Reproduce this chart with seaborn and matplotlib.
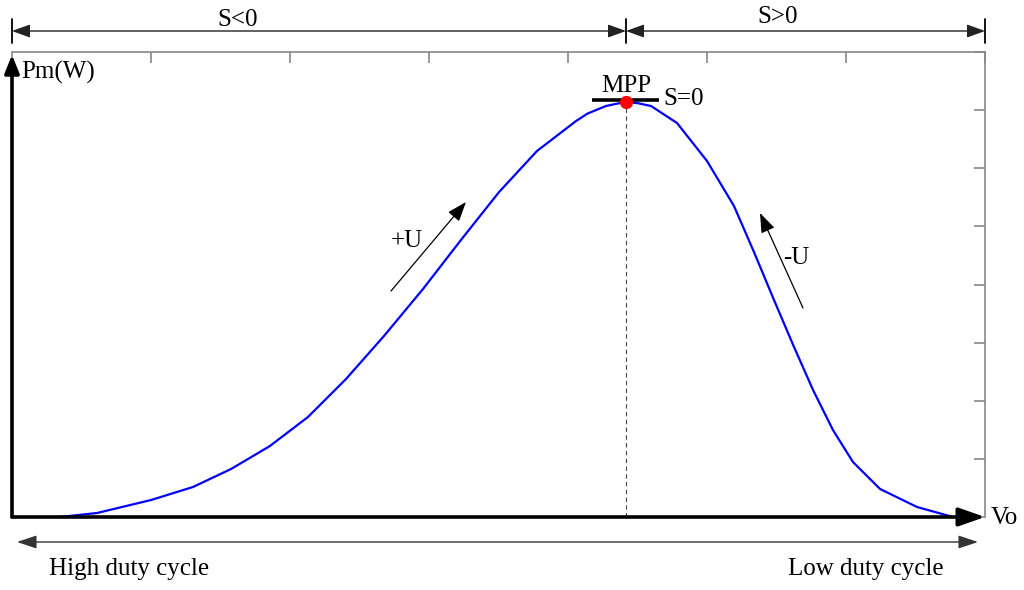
import numpy as np
import matplotlib
matplotlib.use('Agg')
import matplotlib.pyplot as plt
from matplotlib.lines import Line2D
import seaborn as sns

# P-V curve (Vo in tick units, Pm in tick units)
vo = [0.345, 0.612, 1.000, 1.302, 1.576, 1.856, 2.129, 2.403, 2.676, 2.957,
      3.230, 3.504, 3.777, 4.058, 4.140, 4.273, 4.350, 4.417, 4.500, 4.597,
      4.784, 5.000, 5.194, 5.338, 5.482, 5.626, 5.763, 5.906, 6.050, 6.245,
      6.511, 6.770]
pm = [0.000, 0.069, 0.292, 0.516, 0.826, 1.222, 1.720, 2.374, 3.114, 3.923,
      4.766, 5.591, 6.297, 6.813, 6.940, 7.071, 7.110, 7.140, 7.120, 7.071,
      6.779, 6.125, 5.351, 4.559, 3.733, 2.925, 2.185, 1.497, 0.946, 0.482,
      0.172, 0.000]
x_ticks = list(range(0, 8))
y_ticks = list(range(0, 9))

sns.set_style('white')
plt.rcParams['font.family'] = ['Liberation Serif', 'DejaVu Serif']
plt.rcParams['text.color'] = 'black'
FS = 18

W, H = 1024, 590
fig = plt.figure(figsize=(W / 100, H / 100), dpi=100)
ax = fig.add_axes([12 / W, 73 / H, 973 / W, 465 / H])


def fpx(x, y):
    # figure pixel (from top-left) -> figure fraction
    return (x / W, 1 - y / H)


sns.lineplot(x=vo, y=pm, ax=ax, color='#0000ff', lw=1.6, sort=False,
             estimator=None, solid_joinstyle='round', solid_capstyle='round')

ax.set_xlim(0, 7)
ax.set_ylim(0, 8)
ax.set_xticks(x_ticks)
ax.set_yticks(y_ticks)
ax.tick_params(direction='in', length=8, width=1.2, colors='#888888',
               top=True, right=True, labelleft=False, labelbottom=False)
ax.set_xlabel('')
ax.set_ylabel('')

for s in ['top', 'right']:
    ax.spines[s].set_color('#888888')
    ax.spines[s].set_linewidth(1.2)
for s in ['left', 'bottom']:
    ax.spines[s].set_visible(False)

# axis arrows
ax.annotate('', xy=(0, 0.994), xytext=(0, 0), xycoords='axes fraction',
            textcoords='axes fraction', annotation_clip=False,
            arrowprops=dict(arrowstyle='-|>,head_length=0.55,head_width=0.22',
                            mutation_scale=20, lw=2.6, color='black',
                            shrinkA=0, shrinkB=0))
ax.annotate('', xy=(1.0, 0), xytext=(0, 0), xycoords='axes fraction',
            textcoords='axes fraction', annotation_clip=False,
            arrowprops=dict(arrowstyle='-|>,head_length=0.8,head_width=0.28',
                            mutation_scale=20, lw=2.6, color='black',
                            shrinkA=0, shrinkB=0))

# maximum power point
i_max = int(np.argmax(pm))
px, py = vo[i_max], pm[i_max]
ax.vlines(px, 0, py, colors='#444444', linestyles=(0, (4, 3)), lw=0.8)
ax.hlines(py + 0.03, px - 0.245, px + 0.237, colors='black', lw=2.6)
ax.plot([px], [py], 'o', color='red', ms=8.5, zorder=5)

# texts
fig.text(*fpx(21, 72), 'Pm(W)', fontsize=FS, ha='left', va='center')
fig.text(*fpx(626, 86), 'MPP', fontsize=FS, ha='center', va='center')
fig.text(*fpx(663, 99), 'S=0', fontsize=FS, ha='left', va='center')
fig.text(*fpx(991, 518), 'Vo', fontsize=FS, ha='left', va='center')
fig.text(*fpx(238, 20), 'S<0', fontsize=FS, ha='center', va='center')
fig.text(*fpx(778, 17), 'S>0', fontsize=FS, ha='center', va='center')
fig.text(*fpx(407, 241), '+U', fontsize=FS, ha='center', va='center')
fig.text(*fpx(796, 258), '-U', fontsize=FS, ha='center', va='center')
fig.text(*fpx(129, 569), 'High duty cycle', fontsize=FS, ha='center', va='center')
fig.text(*fpx(866, 569), 'Low duty cycle', fontsize=FS, ha='center', va='center')


def farrow(p0, p1, style='-|>', color='black', lw=1.0, hl=0.5, hw=0.18):
    ax.annotate('', xy=fpx(*p1), xytext=fpx(*p0), xycoords='figure fraction',
                textcoords='figure fraction', annotation_clip=False,
                arrowprops=dict(arrowstyle=f'{style},head_length={hl},head_width={hw}',
                                mutation_scale=20, lw=lw, color=color,
                                shrinkA=0, shrinkB=0))


# +U / -U direction arrows
farrow((391, 291), (466, 202), lw=0.9, hl=0.6, hw=0.22)
farrow((803, 308), (760, 213), lw=0.9, hl=0.6, hw=0.22)

# S<0 / S>0 dimension line
farrow((12, 31), (626, 31), style='<|-|>', color='#222222', lw=1.0, hl=0.55, hw=0.2)
farrow((626, 31), (985, 31), style='<|-|>', color='#222222', lw=1.0, hl=0.55, hw=0.2)
for xb in [12, 626, 985]:
    (x0, y0), (x1, y1) = fpx(xb, 19), fpx(xb, 43)
    fig.add_artist(Line2D([x0, x1], [y0, y1], transform=fig.transFigure,
                          color='black', lw=1.3))

# duty cycle arrow
farrow((17, 542), (978, 542), style='<|-|>', color='#333333', lw=1.0, hl=0.6, hw=0.2)

fig.savefig('out.png', dpi=100)
